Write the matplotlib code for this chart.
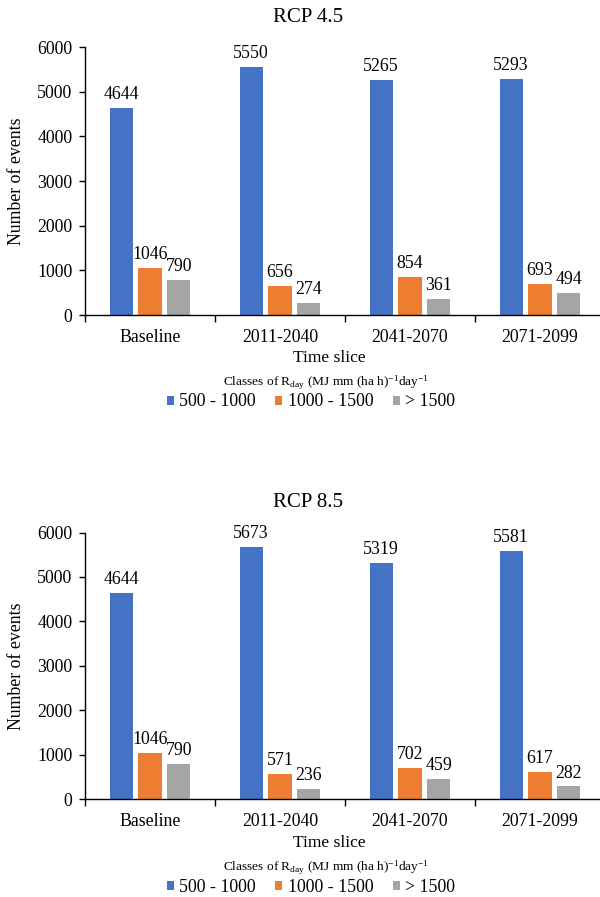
import matplotlib.pyplot as plt
import numpy as np

plt.rcParams['font.family'] = ['Liberation Serif', 'DejaVu Serif']
plt.rcParams['mathtext.fontset'] = 'custom'
plt.rcParams['mathtext.rm'] = 'Liberation Serif'
plt.rcParams['mathtext.it'] = 'Liberation Serif:italic'

periods = ['Baseline', '2011-2040', '2041-2070', '2071-2099']
classes = ['500 - 1000', '1000 - 1500', '> 1500']
colors = ['#4472C4', '#ED7D31', '#A5A5A5']

rcp45_low = [4644, 5550, 5265, 5293]
rcp45_mid = [1046, 656, 854, 693]
rcp45_high = [790, 274, 361, 494]

rcp85_low = [4644, 5673, 5319, 5581]
rcp85_mid = [1046, 571, 702, 617]
rcp85_high = [790, 236, 459, 282]

fig = plt.figure(figsize=(6, 8.97), dpi=100)


def draw_panel(rect, series, title, y_title, y_xlabel, y_legtitle, y_leg):
    ax = fig.add_axes(rect)
    x = np.arange(len(periods))
    width = 0.177
    step = 0.223
    bars = []
    for i, vals in enumerate(series):
        b = ax.bar(x + (i - 1) * step, vals, width, color=colors[i], label=classes[i])
        ax.bar_label(b, padding=3.5, fontsize=12.8)
        bars.append(b)
    ax.set_xlim(-0.5, 3.5)
    ax.set_ylim(0, 6000)
    ax.set_yticks(range(0, 6001, 1000))
    ax.set_xticks(x)
    ax.set_xticklabels(periods)
    ax.set_xticks(np.arange(-0.5, 4, 1), minor=True)
    ax.tick_params(axis='x', which='major', length=0, pad=10, labelsize=12.8)
    ax.tick_params(axis='x', which='minor', length=5, width=1, direction='out')
    ax.tick_params(axis='y', length=4, width=1, direction='out', pad=5, labelsize=12.8)
    for s in ['top', 'right']:
        ax.spines[s].set_visible(False)
    for s in ['left', 'bottom']:
        ax.spines[s].set_linewidth(1.0)
    ax.set_ylabel('Number of events', fontsize=12.8)
    ax.yaxis.set_label_coords(-0.115, 0.5)
    fig.text(308 / 600, 1 - y_title / 897, title, ha='center', va='center', fontsize=15)
    fig.text(329 / 600, 1 - y_xlabel / 897, 'Time slice', ha='center', va='center', fontsize=12.6)
    fig.text(326 / 600, 1 - y_legtitle / 897,
             r'Classes of R$_{\mathrm{day}}$ (MJ mm (ha h)$^{\mathrm{-1}}$day$^{\mathrm{-1}}$',
             ha='center', va='center', fontsize=9.6)
    fig.legend(handles=bars, labels=classes, loc='center',
               bbox_to_anchor=(311 / 600, 1 - y_leg / 897), ncol=3, frameon=False,
               fontsize=12.8, handlelength=0.4, handleheight=0.4,
               handletextpad=0.3, columnspacing=1.1, borderpad=0, borderaxespad=0)
    return ax


draw_panel([85 / 600, 1 - 315 / 897, 520 / 600, 268 / 897],
           [rcp45_low, rcp45_mid, rcp45_high], 'RCP 4.5', 18, 358, 383, 402)
draw_panel([85 / 600, 1 - 799 / 897, 520 / 600, 266.5 / 897],
           [rcp85_low, rcp85_mid, rcp85_high], 'RCP 8.5', 502, 843, 868, 887)

fig.savefig('out.png', dpi=100)
